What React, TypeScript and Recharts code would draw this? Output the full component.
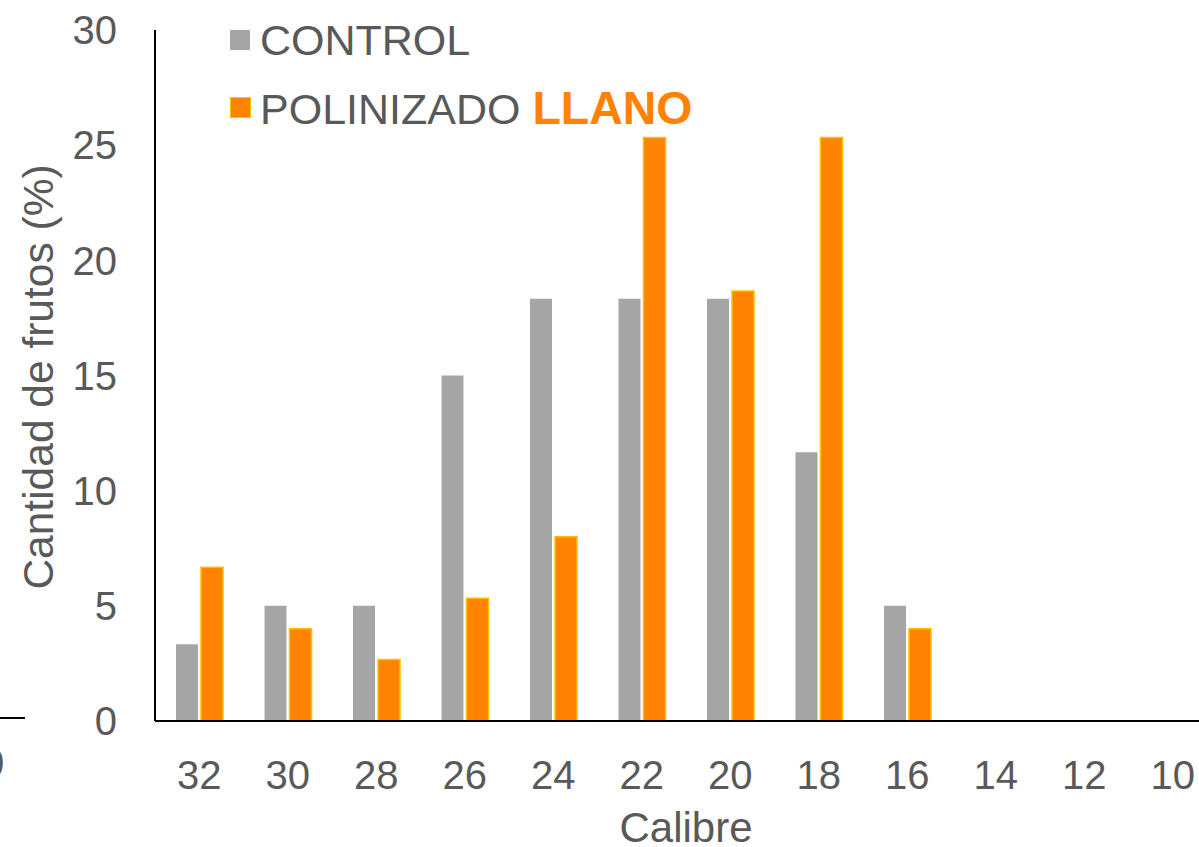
import React from 'react';
import { BarChart, Bar, XAxis, YAxis } from 'recharts';

const categories = ['32', '30', '28', '26', '24', '22', '20', '18', '16', '14', '12', '10'];
const control = [3.33, 5.0, 5.0, 15.0, 18.33, 18.33, 18.33, 11.67, 5.0, 0, 0, 0];
const polinizado = [6.67, 4.0, 2.67, 5.33, 8.0, 25.33, 18.67, 25.33, 4.0, 0, 0, 0];
const yTicks = [0, 5, 10, 15, 20, 25, 30];

const data = categories.map((c, i) => ({ calibre: c, control: control[i], polinizado: polinizado[i] }));

const FONT = '"Liberation Sans", Arial, sans-serif';
const TEXT = '#595959';
const GRAY = '#A5A5A5';
const ORANGE = '#FF8200';
const GOLD = '#FFC000';

const LegendOverlay = () => (
  <div style={{ position: 'absolute', left: 0, top: 0, width: 720, height: 130, fontFamily: FONT, pointerEvents: 'none' }}>
    <div style={{ position: 'absolute', left: 230, top: 30, width: 20, height: 20, background: GRAY }} />
    <div style={{ position: 'absolute', left: 260, top: 15, fontSize: 43, color: TEXT, lineHeight: '50px' }}>CONTROL</div>
    <div style={{ position: 'absolute', left: 230, top: 97, width: 19, height: 19, background: ORANGE, border: `1.5px solid ${GOLD}` }} />
    <div style={{ position: 'absolute', left: 260, top: 83, fontSize: 43, color: TEXT, lineHeight: '50px', whiteSpace: 'nowrap' }}>
      POLINIZADO <span style={{ color: ORANGE, fontWeight: 'bold', fontSize: 46.5 }}>LLANO</span>
    </div>
  </div>
);

export default function App() {
  return (
    <div style={{ position: 'fixed', left: 0, top: 0, width: 1199, height: 847, overflow: 'hidden', background: '#fff' }}>
      <div style={{ position: 'absolute', left: 0, top: 717, width: 25, height: 2, background: '#000' }} />
      <div style={{ position: 'absolute', left: -18, top: 738, fontSize: 40, color: TEXT, fontFamily: FONT, lineHeight: '50px' }}>0</div>
      <BarChart
        width={1220}
        height={847}
        data={data}
        margin={{ top: 30, right: 3, bottom: 0, left: 0 }}
        barSize={22}
        barGap={3}
        style={{ fontFamily: FONT }}
      >
        <XAxis
          dataKey="calibre"
          height={126}
          tickLine={false}
          tickSize={0}
          tickMargin={40}
          axisLine={{ stroke: '#000', strokeWidth: 2 }}
          tick={{ fill: TEXT, fontSize: 40 }}
          interval={0}
          label={{
            content: () => (
              <text x={686} y={842} textAnchor="middle" fill={TEXT} fontSize={42} fontFamily={FONT}>
                Calibre
              </text>
            ),
          }}
        />
        <YAxis
          width={155}
          domain={[0, 30]}
          ticks={yTicks}
          tickLine={false}
          tickSize={0}
          tickMargin={38}
          axisLine={{ stroke: '#000', strokeWidth: 2 }}
          tick={{ fill: TEXT, fontSize: 40 }}
          label={{
            content: () => (
              <text x={53} y={377} textAnchor="middle" fill={TEXT} fontSize={42.5} fontFamily={FONT} transform="rotate(-90, 53, 377)">
                Cantidad de frutos (%)
              </text>
            ),
          }}
        />
        <Bar dataKey="control" name="CONTROL" fill={GRAY} isAnimationActive={false} />
        <Bar dataKey="polinizado" name="POLINIZADO" fill={ORANGE} stroke={GOLD} strokeWidth={1.5} isAnimationActive={false} />
      </BarChart>
      <LegendOverlay />
    </div>
  );
}
